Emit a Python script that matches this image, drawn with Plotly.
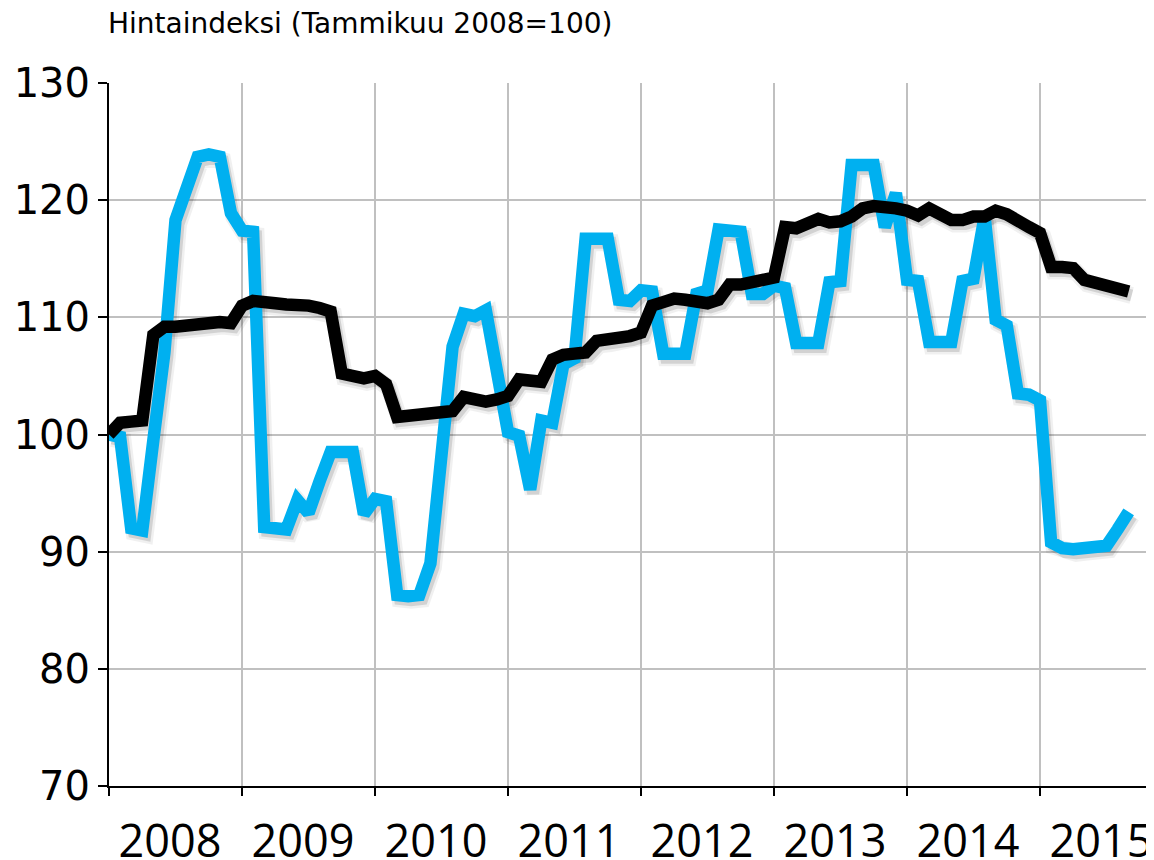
import plotly.graph_objects as go

# Monthly price index, January 2008 = 100 (Jan 2008 .. Sep 2015)
blue_values = [
    100.0, 99.8, 92.0, 91.8, 99.5, 107.0, 118.3, 121.0, 123.7, 123.9, 123.7, 118.9,
    117.4, 117.3, 92.1, 92.0, 91.9, 94.4, 93.3, 96.0, 98.5, 98.5, 98.5, 93.2,
    94.5, 94.3, 86.3, 86.2, 86.3, 89.0, 98.0, 107.5, 110.3, 110.1, 110.6, 105.5,
    100.2, 99.9, 95.3, 101.2, 101.0, 106.0, 106.5, 116.7, 116.7, 116.7, 111.5, 111.4,
    112.3, 112.2, 106.9, 106.9, 106.9, 112.0, 112.3, 117.5, 117.5, 117.3, 112.0, 112.0,
    112.7, 112.5, 107.8, 107.8, 107.8, 113.0, 113.1, 123.0, 123.1, 123.0, 117.7, 120.6,
    113.2, 113.1, 107.9, 107.9, 107.9, 113.1, 113.3, 118.6, 109.8, 109.3, 103.5, 103.4,
    102.9, 90.8, 90.3, 90.2, 90.3, 90.4, 90.5, 91.9, 93.4,
]
black_values = [
    100.0, 101.0, 101.1, 101.2, 108.5, 109.2, 109.2, 109.3, 109.6, 109.7, 109.6, 109.5,
    111.0, 111.4, 111.2, 111.2, 111.1, 111.1, 111.0, 110.8, 110.5, 105.2, 105.0, 104.8,
    105.0, 104.3, 101.5, 101.6, 101.6, 101.7, 101.9, 102.0, 103.2, 103.0, 102.8, 103.0,
    103.3, 104.7, 104.7, 104.5, 106.4, 106.8, 106.9, 107.0, 108.0, 108.1, 108.3, 108.4,
    108.7, 111.0, 111.3, 111.6, 111.5, 111.4, 111.2, 111.5, 112.8, 112.8, 112.9, 113.2,
    113.4, 117.7, 117.6, 118.0, 118.4, 118.1, 118.2, 118.6, 119.3, 119.5, 119.5, 119.3,
    119.1, 118.7, 119.3, 118.8, 118.3, 118.3, 118.6, 118.6, 119.1, 118.8, 118.1, 117.7,
    117.2, 114.3, 114.3, 114.2, 113.2, 113.0, 112.8, 112.6, 112.2,
]
years = ["2008", "2009", "2010", "2011", "2012", "2013", "2014", "2015"]
y_ticks = [70, 80, 90, 100, 110, 120, 130]

months = list(range(len(blue_values)))
year_centres = [12 * i + 5.5 for i in range(len(years))]

# the page body has an 8px margin, so the figure is 8px smaller than the window
W, H = 1146, 852
L, T, B = 101, 75, 74
px_per_month = 133.0 / 12
x_range = [0, (W - L) / px_per_month]
y_range = [70, 130]
px_per_unit = (H - T - B) / (y_range[1] - y_range[0])

# soft drop shadow: same data on hidden axes whose range is shifted a few pixels
sdx, sdy = 3, 4
x_shadow = [x_range[0] - sdx / px_per_month, x_range[1] - sdx / px_per_month]
y_shadow = [y_range[0] + sdy / px_per_unit, y_range[1] + sdy / px_per_unit]

fig = go.Figure()

for vals in (blue_values, black_values):
    for w, a in ((17, 0.06), (12, 0.12)):
        fig.add_trace(go.Scatter(
            x=months, y=vals, mode="lines", xaxis="x", yaxis="y",
            line=dict(color=f"rgba(0,0,0,{a})", width=w),
            hoverinfo="skip", showlegend=False,
        ))

fig.add_trace(go.Scatter(
    x=months, y=blue_values, mode="lines", name="Sarja 1",
    xaxis="x2", yaxis="y2",
    line=dict(color="#00B0F0", width=12.5),
))
fig.add_trace(go.Scatter(
    x=months, y=black_values, mode="lines", name="Sarja 2",
    xaxis="x2", yaxis="y2",
    line=dict(color="#000000", width=12.5),
))

fig.update_layout(
    width=W, height=H,
    margin=dict(l=L, r=0, t=T, b=B, autoexpand=False),
    paper_bgcolor="white", plot_bgcolor="white",
    showlegend=False,
    font=dict(family="DejaVu Sans", color="black"),
    xaxis=dict(range=x_shadow, visible=False, showgrid=False, zeroline=False,
               automargin=False),
    yaxis=dict(range=y_shadow, visible=False, showgrid=False, zeroline=False,
               automargin=False),
    xaxis2=dict(
        overlaying="x", anchor="y2", side="bottom", automargin=False,
        range=x_range, showgrid=False, zeroline=False,
        tickmode="array", tickvals=year_centres, ticktext=years,
        ticks="", ticklabelstandoff=15,
        tickfont=dict(family="Open Sans", size=45),
        showline=True, linecolor="black", linewidth=2,
        minor=dict(tickmode="array", tickvals=[12 * i for i in range(len(years))],
                   ticks="outside", ticklen=8, tickwidth=2, tickcolor="black",
                   showgrid=True, gridcolor="#c0c0c0", gridwidth=2),
    ),
    yaxis2=dict(
        overlaying="y", anchor="x2", side="left", automargin=False,
        range=y_range, tickvals=y_ticks,
        showgrid=True, gridcolor="#c0c0c0", gridwidth=2, zeroline=False,
        ticks="outside", ticklen=9, tickwidth=2, tickcolor="black",
        showline=True, linecolor="black", linewidth=2,
        tickfont=dict(family="DejaVu Sans", size=40),
    ),
    annotations=[dict(
        text="Hintaindeksi (Tammikuu 2008=100)",
        xref="paper", yref="paper", x=0, y=1 + (T - 15) / (H - T - B),
        xanchor="left", yanchor="middle", xshift=-3, showarrow=False,
        font=dict(family="DejaVu Sans", size=28, color="black"),
    )],
)

fig.write_html("out.html")
